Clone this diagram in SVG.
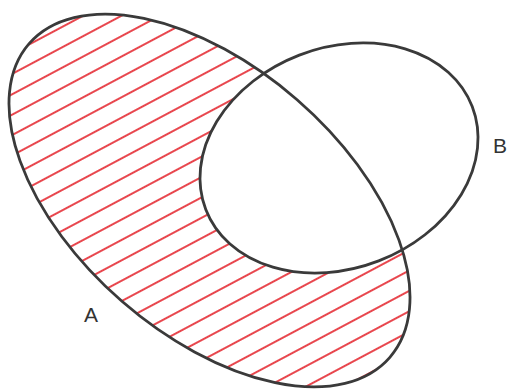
<svg xmlns="http://www.w3.org/2000/svg" width="509" height="389" viewBox="0 0 509 389">
  <style>
    .outline { fill: none; stroke: #3a3a3a; stroke-width: 2.8; }
    .label { font-family: "Liberation Sans", Arial, sans-serif; font-size: 21px; fill: #333333; }
  </style>
  <defs>
    <pattern id="hatch" patternUnits="userSpaceOnUse" width="40" height="18" patternTransform="rotate(-69)">
      <line x1="-5" y1="9" x2="45" y2="9" stroke="#e8474e" stroke-width="2"/>
    </pattern>
  </defs>
  <rect width="509" height="389" fill="#ffffff"/>
  <g id="regions">
    <ellipse cx="209.5" cy="200.5" rx="239" ry="133.5" transform="rotate(41 209.5 200.5)" fill="url(#hatch)"/>
    <ellipse cx="339" cy="158" rx="142.8" ry="110.3" transform="rotate(-21.1 339 158)" fill="#ffffff"/>
  </g>
  <g id="nodeA">
    <ellipse class="outline" cx="209.5" cy="200.5" rx="239" ry="133.5" transform="rotate(41 209.5 200.5)"/>
    <text class="label" x="84" y="322">A</text>
  </g>
  <g id="nodeB">
    <ellipse class="outline" cx="339" cy="158" rx="142.8" ry="110.3" transform="rotate(-21.1 339 158)"/>
    <text class="label" x="493" y="153">B</text>
  </g>
</svg>
